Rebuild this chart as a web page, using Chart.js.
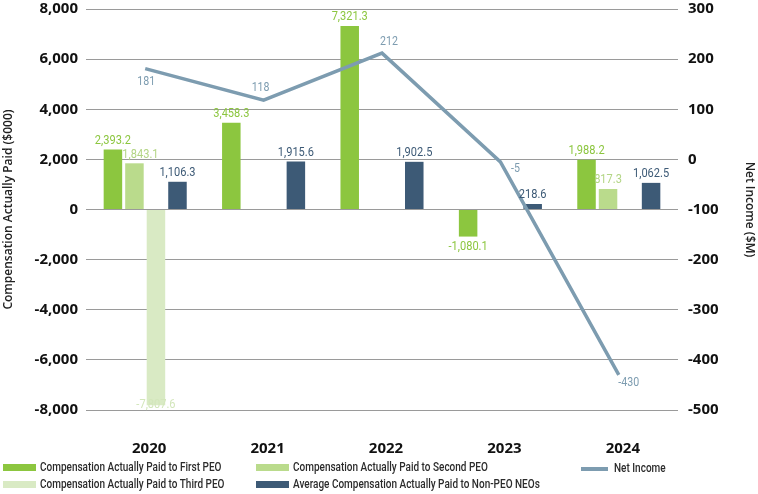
<!DOCTYPE html>
<html>
<head>
<meta charset="utf-8">
<script src="https://cdn.jsdelivr.net/npm/chart.js@4.4.1/dist/chart.umd.min.js"></script>
<style>
  html, body { margin: 0; padding: 0; background: #fff; }
  #wrap { position: relative; width: 758px; height: 494px; }
  #legend { position: absolute; left: 0; top: 0; width: 758px; height: 494px; pointer-events: none;
    font-family: Roboto, "Noto Sans", sans-serif; font-weight: 500; font-size: 12.5px; color: #2b2b2b; }
  .li { position: absolute; white-space: nowrap; line-height: 14px; transform: scaleX(0.8); transform-origin: left center; }
  .sw { position: absolute; }
</style>
</head>
<body>
<div id="wrap">
  <canvas id="c" width="758" height="494"></canvas>
  <div id="legend"></div>
</div>
<script>
const categories = ['2020', '2021', '2022', '2023', '2024'];
const firstPEO = [2393.2, 3458.3, 7321.3, -1080.1, 1988.2];
const secondPEO = [1843.1, null, null, null, 817.3];
const thirdPEO = [-7807.6, null, null, null, null];
const nonPeoNeos = [1106.3, 1915.6, 1902.5, 218.6, 1062.5];
const netIncome = [181, 118, 212, -5, -430];
const leftTicks = [-8000, -6000, -4000, -2000, 0, 2000, 4000, 6000, 8000];
const rightTicks = [-500, -400, -300, -200, -100, 0, 100, 200, 300];

const seriesLabels = [
  'Compensation Actually Paid to First PEO',
  'Compensation Actually Paid to Second PEO',
  'Compensation Actually Paid to Third PEO',
  'Average Compensation Actually Paid to Non-PEO NEOs',
  'Net Income'
];
const colors = ['#8cc63f', '#badb8c', '#d9eac4', '#3d5a76', '#7d9cb0'];
const labelColors = ['#8cc63f', '#b3d585', '#d3e6bb', '#3d5a76', '#7d9cb0'];

const fmtBar = v => v.toLocaleString('en-US', { minimumFractionDigits: 1, maximumFractionDigits: 1 });
const fmtInt = v => String(v);

const labelPlugin = {
  id: 'valueLabels',
  afterDatasetsDraw(chart, args, opts) {
    const ctx = chart.ctx;
    const area = chart.chartArea;
    chart.data.datasets.forEach((ds, di) => {
      const meta = chart.getDatasetMeta(di);
      meta.data.forEach((el, i) => {
        const v = ds.data[i];
        if (v === null || v === undefined) return;
        let x, y, txt, font;
        if (ds.type === 'line') {
          const off = opts.lineOffsets[i];
          x = el.x + off[0];
          y = el.y + off[1];
          txt = fmtInt(v);
          font = opts.lineFont;
        } else {
          const dx = (opts.barDx[di] && opts.barDx[di][i]) || 0;
          x = el.x + dx;
          y = v >= 0 ? el.y - 9 : Math.min(el.y + 10, area.bottom - 5);
          txt = fmtBar(v);
          font = opts.font;
        }
        ctx.save();
        ctx.font = font;
        ctx.textAlign = 'center';
        ctx.textBaseline = 'middle';
        ctx.fillStyle = labelColors[di];
        ctx.translate(x, y);
        ctx.scale(opts.squeeze, 1);
        ctx.fillText(txt, 0, 0);
        ctx.restore();
      });
    });
  }
};

const barDs = (label, data, idx) => ({
  type: 'bar', label, data, backgroundColor: colors[idx], yAxisID: 'y', order: 2,
  barPercentage: 0.86, categoryPercentage: 0.727
});

const tickFont = { family: '"Open Sans", sans-serif', size: 15, weight: '700' };
const titleFont = { family: '"Open Sans", sans-serif', size: 12, weight: '600' };
const fixVPad = s => { s.paddingTop = 9; s.paddingBottom = 0; };

const chart = new Chart(document.getElementById('c'), {
  data: {
    labels: categories,
    datasets: [
      barDs(seriesLabels[0], firstPEO, 0),
      barDs(seriesLabels[1], secondPEO, 1),
      barDs(seriesLabels[2], thirdPEO, 2),
      barDs(seriesLabels[3], nonPeoNeos, 3),
      { type: 'line', label: seriesLabels[4], data: netIncome, yAxisID: 'y1', order: 0,
        borderColor: colors[4], borderWidth: 3.5, pointRadius: 0, tension: 0, fill: false }
    ]
  },
  options: {
    responsive: false,
    animation: false,
    devicePixelRatio: 1,
    layout: { padding: { top: 0, left: 0, right: 0, bottom: 0 } },
    plugins: {
      legend: { display: false },
      tooltip: { enabled: false },
      valueLabels: {
        font: '13px Roboto, "Noto Sans", sans-serif',
        lineFont: '12.5px Roboto, "Noto Sans", sans-serif',
        squeeze: 0.85,
        lineOffsets: [[1, 13], [-3, -12], [7, -11], [15, 7], [10, 8]],
        barDx: { 1: { 0: 6 } }
      }
    },
    scales: {
      x: {
        grid: { display: false },
        border: { display: false },
        ticks: { color: '#111', font: tickFont, padding: 22, labelOffset: 4 },
        afterFit(s) { s.height = 84; }
      },
      y: {
        position: 'left',
        min: leftTicks[0], max: leftTicks[leftTicks.length - 1],
        afterBuildTicks(s) { s.ticks = leftTicks.map(v => ({ value: v })); },
        grid: { color: '#9a9a9a', lineWidth: 1, drawTicks: false },
        border: { display: false },
        ticks: { color: '#111', font: tickFont, padding: 8,
          callback: v => v.toLocaleString('en-US') },
        title: { display: true, text: 'Compensation Actually Paid ($000)', color: '#222',
          font: titleFont, padding: { top: 1, bottom: 0 } },
        afterFit(s) { s.width = 86; fixVPad(s); }
      },
      y1: {
        position: 'right',
        min: rightTicks[0], max: rightTicks[rightTicks.length - 1],
        afterBuildTicks(s) { s.ticks = rightTicks.map(v => ({ value: v })); },
        grid: { display: false, drawTicks: false },
        border: { display: false },
        ticks: { color: '#111', font: tickFont, padding: 10 },
        title: { display: true, text: 'Net Income ($M)', color: '#222',
          font: titleFont, padding: { top: 1, bottom: 0 } },
        afterFit(s) { s.width = 80; fixVPad(s); }
      }
    }
  },
  plugins: [labelPlugin]
});

// HTML legend built from the chart's datasets
const legendPos = [
  { sx: 3, sy: 464, sw: 33, sh: 7, tx: 40, ty: 460 },
  { sx: 256, sy: 464, sw: 33, sh: 7, tx: 293, ty: 460 },
  { sx: 3, sy: 481, sw: 33, sh: 7, tx: 40, ty: 477 },
  { sx: 256, sy: 481, sw: 33, sh: 7, tx: 293, ty: 477 },
  { sx: 581, sy: 467, sw: 27, sh: 4, tx: 614, ty: 461 }
];
const legendEl = document.getElementById('legend');
chart.data.datasets.forEach((ds, i) => {
  const p = legendPos[i];
  const sw = document.createElement('div');
  sw.className = 'sw';
  sw.style.cssText = `left:${p.sx}px;top:${p.sy}px;width:${p.sw}px;height:${p.sh}px;background:${colors[i]}`;
  const t = document.createElement('div');
  t.className = 'li';
  t.style.left = p.tx + 'px';
  t.style.top = p.ty + 'px';
  t.textContent = ds.label;
  legendEl.appendChild(sw);
  legendEl.appendChild(t);
});
</script>
</body>
</html>
